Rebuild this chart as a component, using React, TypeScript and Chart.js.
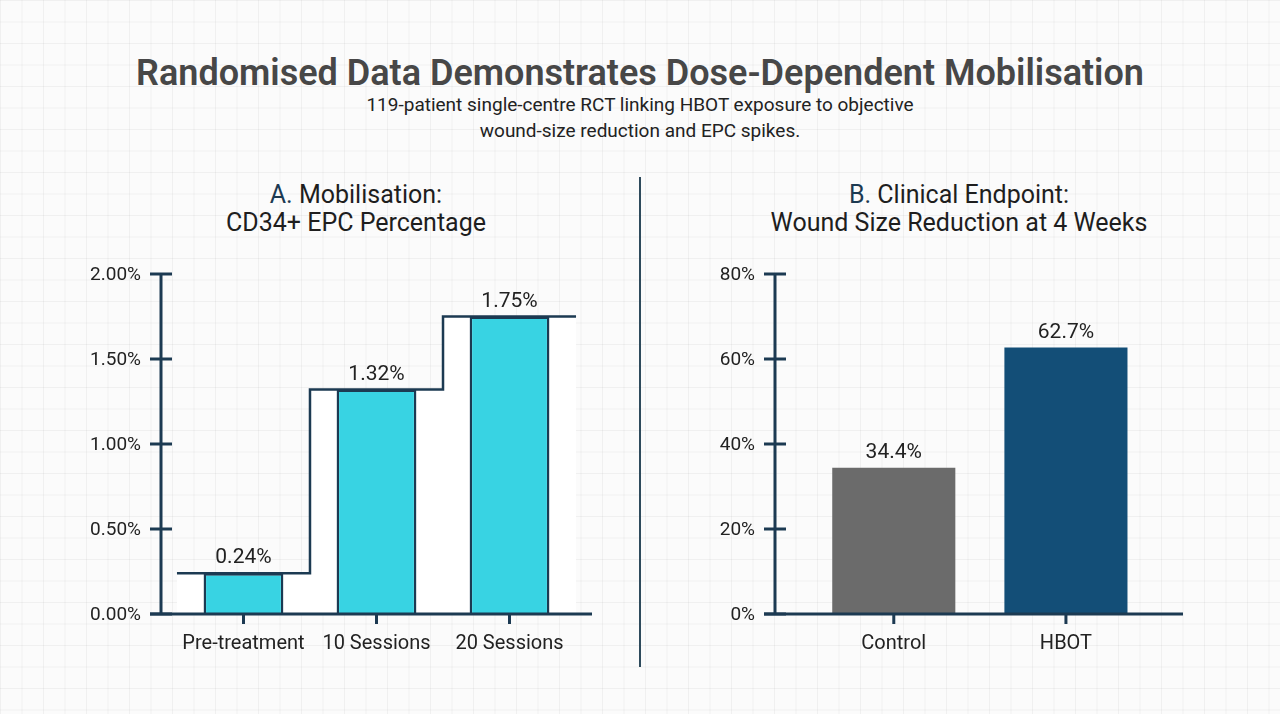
import React, { useEffect, useRef } from "react";
import { Chart, registerables } from "chart.js";

Chart.register(...registerables);

// ---- Data ----
const epcCategories = ["Pre-treatment", "10 Sessions", "20 Sessions"];
const epcValues = [0.24, 1.32, 1.75];
const epcTicks = [0, 0.5, 1.0, 1.5, 2.0];

const woundCategories = ["Control", "HBOT"];
const woundValues = [34.4, 62.7];
const woundTicks = [0, 20, 40, 60, 80];

const NAVY = "#1c3a52";
const FONT = "Roboto, 'Noto Sans', sans-serif";

type AxisOpts = {
  categories: string[];
  ticks: number[];
  tickFmt: (v: number) => string;
  valueFmt: (v: number) => string;
  values: number[];
};

function axesPlugin(o: AxisOpts) {
  return {
    id: "customAxes",
    afterDraw(chart: any) {
      const ctx = chart.ctx;
      const x = chart.scales.x;
      const y = chart.scales.y;
      const area = chart.chartArea;
      const left = area.left;
      const bottom = y.getPixelForValue(0);
      const top = y.getPixelForValue(o.ticks[o.ticks.length - 1]);
      ctx.save();
      ctx.strokeStyle = NAVY;
      ctx.lineWidth = 3;
      ctx.lineCap = "butt";
      // y axis
      ctx.beginPath();
      ctx.moveTo(left, top);
      ctx.lineTo(left, bottom);
      ctx.stroke();
      // x axis
      ctx.beginPath();
      ctx.moveTo(left - 11, bottom);
      ctx.lineTo(area.right, bottom);
      ctx.stroke();
      // y ticks
      ctx.fillStyle = "#222";
      ctx.font = `19px ${FONT}`;
      ctx.textAlign = "right";
      ctx.textBaseline = "middle";
      o.ticks.forEach((t) => {
        const py = y.getPixelForValue(t);
        ctx.beginPath();
        ctx.moveTo(left - 11, py);
        ctx.lineTo(left + 11, py);
        ctx.stroke();
        ctx.fillText(o.tickFmt(t), left - 20, py + 1);
      });
      // x ticks + labels
      ctx.textAlign = "center";
      ctx.font = `20px ${FONT}`;
      o.categories.forEach((c, i) => {
        const px = x.getPixelForValue(i);
        ctx.beginPath();
        ctx.moveTo(px, bottom);
        ctx.lineTo(px, bottom + 10);
        ctx.stroke();
        ctx.fillText(c, px, bottom + 30);
      });
      // value labels
      ctx.font = `21px ${FONT}`;
      o.values.forEach((v, i) => {
        const px = x.getPixelForValue(i);
        const py = y.getPixelForValue(v);
        ctx.fillText(o.valueFmt(v), px, py - 15);
      });
      ctx.restore();
    },
  };
}

function categoryTicks(n: number) {
  return (scale: any) => {
    scale.ticks = Array.from({ length: n }, (_, i) => ({ value: i }));
  };
}

function EpcChart() {
  const ref = useRef<HTMLCanvasElement>(null);
  useEffect(() => {
    const stepPoints: { x: number; y: number }[] = [];
    epcValues.forEach((v, i) => {
      stepPoints.push({ x: i - 0.5, y: v });
      stepPoints.push({ x: i + 0.5, y: v });
    });
    const chart = new Chart(ref.current!, {
      type: "bar",
      data: {
        datasets: [
          {
            type: "bar",
            data: epcValues.map((v, i) => ({ x: i, y: v })),
            backgroundColor: "#38d3e3",
            borderColor: NAVY,
            borderWidth: 2.5,
            categoryPercentage: 1,
            barPercentage: 0.6,
            order: 1,
          } as any,
          {
            type: "line",
            data: stepPoints,
            borderColor: NAVY,
            borderWidth: 2.5,
            pointRadius: 0,
            tension: 0,
            fill: "origin",
            backgroundColor: "#ffffff",
            order: 2,
          } as any,
        ],
      },
      options: {
        animation: false,
        responsive: false,
        maintainAspectRatio: false,
        layout: { padding: { left: 161, top: 24, right: 48, bottom: 66 } },
        plugins: { legend: { display: false }, tooltip: { enabled: false } },
        scales: {
          x: {
            type: "linear",
            min: -0.62,
            max: 2.62,
            offset: false,
            display: false,
            afterBuildTicks: categoryTicks(epcCategories.length),
          },
          y: { type: "linear", min: 0, max: 2, display: false },
        },
      },
      plugins: [
        axesPlugin({
          categories: epcCategories,
          ticks: epcTicks,
          tickFmt: (v) => v.toFixed(2) + "%",
          valueFmt: (v) => v.toFixed(2) + "%",
          values: epcValues,
        }),
      ],
    });
    return () => chart.destroy();
  }, []);
  return (
    <canvas
      ref={ref}
      width={640}
      height={430}
      style={{ position: "absolute", left: 0, top: 250, width: 640, height: 430 }}
    />
  );
}

function WoundChart() {
  const ref = useRef<HTMLCanvasElement>(null);
  useEffect(() => {
    const chart = new Chart(ref.current!, {
      type: "bar",
      data: {
        datasets: [
          {
            data: woundValues.map((v, i) => ({ x: i, y: v })),
            backgroundColor: ["#6b6b6b", "#134e77"],
            borderWidth: 0,
            categoryPercentage: 1,
            barPercentage: 0.715,
          } as any,
        ],
      },
      options: {
        animation: false,
        responsive: false,
        maintainAspectRatio: false,
        layout: { padding: { left: 135, top: 24, right: 97, bottom: 66 } },
        plugins: { legend: { display: false }, tooltip: { enabled: false } },
        scales: {
          x: {
            type: "linear",
            min: -0.69,
            max: 1.68,
            offset: false,
            display: false,
            afterBuildTicks: categoryTicks(woundCategories.length),
          },
          y: { type: "linear", min: 0, max: 80, display: false },
        },
      },
      plugins: [
        axesPlugin({
          categories: woundCategories,
          ticks: woundTicks,
          tickFmt: (v) => v + "%",
          valueFmt: (v) => v.toFixed(1) + "%",
          values: woundValues,
        }),
      ],
    });
    return () => chart.destroy();
  }, []);
  return (
    <canvas
      ref={ref}
      width={640}
      height={430}
      style={{ position: "absolute", left: 640, top: 250, width: 640, height: 430 }}
    />
  );
}

export default function App() {
  const gridBg =
    "linear-gradient(to right, rgba(0,0,0,0.045) 1px, transparent 1px), linear-gradient(to bottom, rgba(0,0,0,0.045) 1px, transparent 1px)";
  const chartTitle: React.CSSProperties = {
    position: "absolute",
    textAlign: "center",
    fontFamily: FONT,
    fontSize: 25,
    lineHeight: "28px",
    color: "#1e1e1e",
    whiteSpace: "nowrap",
  };
  return (
    <div
      style={{
        position: "fixed",
        left: 0,
        top: 0,
        width: 1280,
        height: 714,
        backgroundColor: "#fbfbfb",
        backgroundImage: gridBg,
        backgroundSize: "21.5px 21.5px",
        overflow: "hidden",
        fontFamily: FONT,
      }}
    >
      <div
        style={{
          position: "absolute",
          left: 0,
          width: 1280,
          top: 50,
          textAlign: "center",
          fontSize: 36,
          fontWeight: 600,
          color: "#474747",
          lineHeight: "46px",
        }}
      >
        Randomised Data Demonstrates Dose-Dependent Mobilisation
      </div>
      <div
        style={{
          position: "absolute",
          left: 0,
          width: 1280,
          top: 92,
          textAlign: "center",
          fontSize: 19,
          color: "#222",
          lineHeight: "26px",
        }}
      >
        119-patient single-centre RCT linking HBOT exposure to objective
        <br />
        wound-size reduction and EPC spikes.
      </div>
      <div style={{ ...chartTitle, left: 156, width: 400, top: 181 }}>
        <span style={{ color: NAVY }}>A.</span> Mobilisation:
        <br />
        CD34+ EPC Percentage
      </div>
      <div style={{ ...chartTitle, left: 759, width: 400, top: 181 }}>
        <span style={{ color: NAVY }}>B.</span> Clinical Endpoint:
        <br />
        Wound Size Reduction at 4 Weeks
      </div>
      <div
        style={{
          position: "absolute",
          left: 639,
          top: 177,
          width: 2,
          height: 490,
          background: "#2e4a5c",
        }}
      />
      <EpcChart />
      <WoundChart />
    </div>
  );
}
